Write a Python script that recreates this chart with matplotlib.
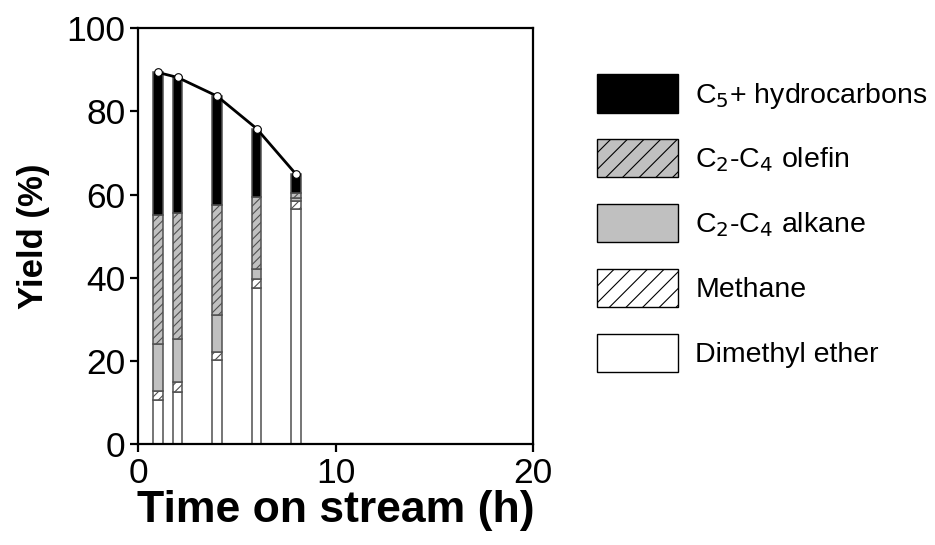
import matplotlib
matplotlib.use('Agg')
import matplotlib.pyplot as plt
from matplotlib.patches import Patch
import numpy as np

plt.rcParams['font.family'] = ['Liberation Sans', 'DejaVu Sans']
plt.rcParams['hatch.linewidth'] = 0.8

# time on stream (h)
hours = [1, 2, 4, 6, 8]

# yields (%) per product, stacked bottom to top
dme = [10.6, 12.6, 20.1, 37.6, 56.6]
methane = [2.2, 2.2, 2.1, 2.1, 1.8]
alkane = [11.3, 10.5, 8.8, 2.5, 0.8]
olefin = [31.1, 30.3, 26.4, 17.3, 1.2]
c5plus = [34.2, 32.6, 26.3, 16.4, 4.5]

labels = ['C$_5$+ hydrocarbons', 'C$_2$-C$_4$ olefin', 'C$_2$-C$_4$ alkane',
          'Methane', 'Dimethyl ether']

fig = plt.figure(figsize=(9.35, 5.45), dpi=100)
ax = fig.add_axes([0.1476, 0.1853, 0.4225, 0.7627])

edge = '#505050'
series = [
    (dme, 'white', None),
    (methane, 'white', '////'),
    (alkane, '#c0c0c0', None),
    (olefin, '#c0c0c0', '////'),
    (c5plus, 'black', None),
]
bottom = np.zeros(len(hours))
for vals, fc, hatch in series:
    ax.bar(hours, vals, width=0.5, bottom=bottom, color=fc, edgecolor=edge,
           linewidth=1.1, hatch=hatch, zorder=2)
    bottom = bottom + np.array(vals)

ax.plot(hours, bottom, color='black', lw=2, marker='o', ms=5.5,
        mfc='white', mec='black', mew=0.8, zorder=4)

ax.set_xlim(0, 20)
ax.set_ylim(0, 100)
ax.set_xticks([0, 10, 20])
ax.set_yticks([0, 20, 40, 60, 80, 100])
ax.tick_params(direction='out', length=6, width=1.6, labelsize=25.5, pad=3)
for s in ax.spines.values():
    s.set_linewidth(1.6)

ax.set_xlabel('Time on stream (h)', fontsize=32, fontweight='bold', labelpad=0)
ax.set_ylabel('Yield (%)', fontsize=25, fontweight='bold', labelpad=12)

handles = [
    Patch(facecolor='black', edgecolor='black', label=labels[0]),
    Patch(facecolor='#c0c0c0', edgecolor='black', hatch='//', label=labels[1]),
    Patch(facecolor='#c0c0c0', edgecolor='black', label=labels[2]),
    Patch(facecolor='white', edgecolor='black', hatch='//', label=labels[3]),
    Patch(facecolor='white', edgecolor='black', label=labels[4]),
]
fig.legend(handles=handles, loc='upper left', bbox_to_anchor=(0.626, 0.885),
           frameon=False, fontsize=20.5, handlelength=2.85, handleheight=1.7,
           handletextpad=0.62, labelspacing=0.93, borderaxespad=0)

fig.savefig('out.png', dpi=100)
